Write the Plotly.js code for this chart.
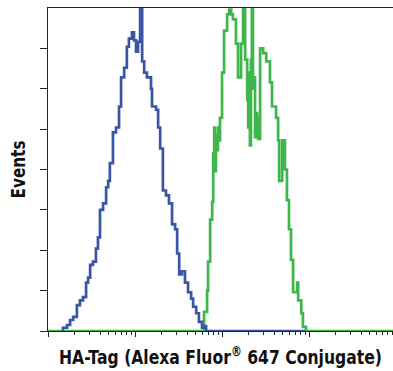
<!DOCTYPE html>
<html>
<head>
<meta charset="utf-8">
<script src="https://cdn.plot.ly/plotly-3.0.1.min.js"></script>
<style>html,body{margin:0;padding:0;background:#fff;}#chart{width:393px;height:371px;}</style>
</head>
<body>
<div id="chart"></div>
<script>
// Histogram channels (256 channels per decade, 4-decade log scale) and event counts
var isotypeChannel = [41,44,56,65,74,85,94,103,112,118,124,132,141,147,153,162,171,177,182,191,200,209,215,224,232,238,247,253,259,265,271,277,283,291,303,306,318,324,330,338,347,356,365,374,380,386,394,403,412,421,427,436,444,453,459,465,757];
var isotypeCounts  = [0,2,3.7,6.8,8.7,16,19,21,30,33,41,43,51,58,75,79,89,93,104,123,126,139,157,163,176,181,185,180,173,179,215,167,160,157,150,139,137,126,113,87,84,79,66,63,48,35,37,30,24,20,15,11,5.6,2,3,0,0];

var haChannel = [0,453,459,468,471,477,483,486,489,491,494,497,500,503,506,512,518,527,533,539,544,553,559,568,574,580,586,589,592,594,597,600,603,606,609,612,615,618,624,633,642,653,659,671,677,680,689,697,703,709,715,721,733,736,745,750,759,1015];
var haCounts  = [0,0,11.8,25,43,69,80,110,126,99,121,112,126,118,132,160,186,196,199,196,193,178,157,178,215,168,143,126,160,115,168,215,150,157,120,135,132,119,175,172,167,154,139,132,118,93,118,100,81,63,44,24,30,19,11,2.5,0,0];

var yTicks = [0,25,50,75,100,125,150,175];
var decades = [0,1,2,3];
var minorDigits = [2,3,4,5,6,7,8,9];

var majorTicks = decades.map(function(k){return k*256;});
var minorTicks = [];
decades.forEach(function(k){minorDigits.forEach(function(d){minorTicks.push(256*(k+Math.log10(d)));});});

var titleFont = {family:'DejaVu Sans, Liberation Sans, sans-serif', size:20, color:'#111', weight:'bold'};

var traces = [
  {x: haChannel, y: haCounts, type:'scatter', mode:'lines', line:{shape:'hv', color:'#3fb64b', width:2.7}, hoverinfo:'skip'},
  {x: isotypeChannel, y: isotypeCounts, type:'scatter', mode:'lines', line:{shape:'hv', color:'#3a55a6', width:2.7}, hoverinfo:'skip'}
];

var layout = {
  width:393, height:371,
  margin:{l:48, r:0, t:8, b:40},
  paper_bgcolor:'#fff', plot_bgcolor:'#fff',
  showlegend:false,
  xaxis:{
    range:[0,1015], showgrid:false, zeroline:false,
    showline:true, linecolor:'#222', linewidth:1, mirror:true,
    tickmode:'array', tickvals: majorTicks, ticks:'outside', ticklen:5, tickwidth:1, tickcolor:'#222',
    showticklabels:false,
    minor:{tickmode:'array', tickvals:minorTicks, ticks:'outside', ticklen:3, tickwidth:1, tickcolor:'#222', showgrid:false},
    title:{text:'HA-Tag (Alexa Fluor<sup>®</sup> 647 Conjugate)', font:titleFont, standoff:14}
  },
  yaxis:{
    range:[0,200], showgrid:false, zeroline:false,
    showline:true, linecolor:'#222', linewidth:1,
    tickmode:'array', tickvals:yTicks, ticks:'outside', ticklen:7, tickwidth:1, tickcolor:'#222',
    showticklabels:false,
    title:{text:'Events', font:titleFont, standoff:8}
  }
};

// condense a title horizontally (in its own frame) about its anchor point
function condense(sel, targetWidth){
  var el = document.querySelector(sel);
  if(!el) return;
  var w = el.getBBox().width;
  if(!w) return;
  var s = targetWidth / w;
  var x = parseFloat(el.getAttribute('x')) || 0;
  var y = parseFloat(el.getAttribute('y')) || 0;
  var t = el.getAttribute('transform') || '';
  el.setAttribute('transform', t + ' translate(' + x + ',' + y + ') scale(' + s + ',1) translate(' + (-x) + ',' + (-y) + ')');
}

Plotly.newPlot('chart', traces, layout, {displayModeBar:false, staticPlot:true}).then(function(){
  condense('.xtitle', 323);
  condense('.ytitle', 58);
});
</script>
</body>
</html>
